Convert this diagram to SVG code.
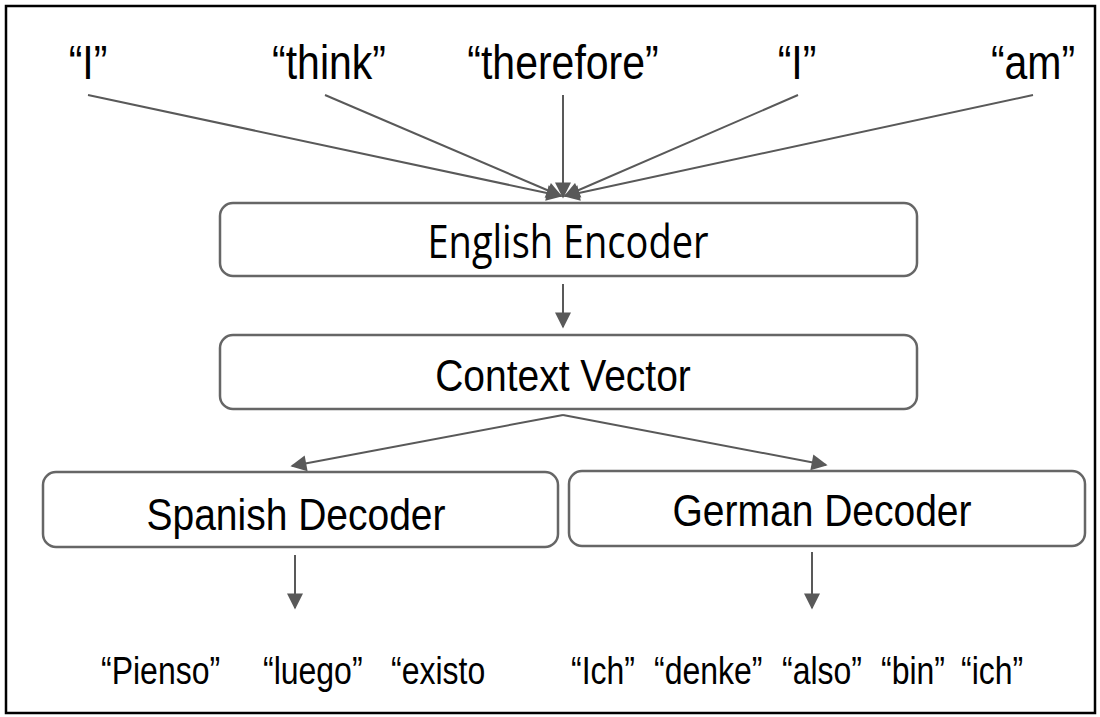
<svg xmlns="http://www.w3.org/2000/svg" width="1100" height="717" viewBox="0 0 1100 717">
<style>
.box{fill:#fff;stroke:#666;stroke-width:2.5}
.lbl{font-family:"Liberation Sans",Arial,sans-serif;fill:#000;text-anchor:middle}
.top{font-size:41px}
.node{font-size:39px}
.word{font-size:32px;text-anchor:start}
.enc{font-family:"Open Sans","Noto Sans",sans-serif;font-size:38px;fill:#000;text-anchor:middle}
.edge{stroke:#595959;stroke-width:2;fill:none;marker-end:url(#ah)}
</style>
<defs>
<marker id="ah" viewBox="0 0 10 10" refX="9" refY="5" markerUnits="userSpaceOnUse" markerWidth="18" markerHeight="16" orient="auto">
<path d="M0,0 L10,5 L0,10 z" fill="#595959"/>
</marker>
</defs>
<rect x="0" y="0" width="1100" height="717" fill="#fff"/>
<rect x="6" y="6" width="1089" height="707" fill="none" stroke="#000" stroke-width="2.5"/>
<g id="inputs">
<text class="lbl top" transform="translate(88,79) scale(1,1.15)">“I”</text>
<text class="lbl top" transform="translate(329,79) scale(1,1.15)">“think”</text>
<text class="lbl top" transform="translate(563,79) scale(1,1.15)">“therefore”</text>
<text class="lbl top" transform="translate(797,79) scale(1,1.15)">“I”</text>
<text class="lbl top" transform="translate(1033,79) scale(1,1.15)">“am”</text>
</g>
<g id="english-encoder">
<rect class="box" x="220" y="203" width="697" height="73" rx="13"/>
<text class="enc" transform="translate(568,258) scale(1,1.18)">English Encoder</text>
</g>
<g id="context-vector">
<rect class="box" x="220" y="335" width="697" height="74" rx="13"/>
<text class="lbl node" transform="translate(563,391) scale(1,1.16)">Context Vector</text>
</g>
<g id="spanish-decoder">
<rect class="box" x="43" y="472" width="515" height="75" rx="13"/>
<text class="lbl node" transform="translate(296,530) scale(1,1.16)">Spanish Decoder</text>
</g>
<g id="german-decoder">
<rect class="box" x="569" y="471" width="516" height="75" rx="13"/>
<text class="lbl node" transform="translate(822,526) scale(1,1.16)">German Decoder</text>
</g>
<g id="spanish-output">
<text class="lbl word" transform="translate(101,684) scale(1,1.2)">“Pienso”</text>
<text class="lbl word" transform="translate(263,684) scale(1,1.2)">“luego”</text>
<text class="lbl word" transform="translate(391,684) scale(1,1.2)">“existo</text>
</g>
<g id="german-output">
<text class="lbl word" transform="translate(571,684) scale(1,1.2)">“Ich”</text>
<text class="lbl word" transform="translate(654,684) scale(1,1.2)">“denke”</text>
<text class="lbl word" transform="translate(782,684) scale(1,1.2)">“also”</text>
<text class="lbl word" transform="translate(881,684) scale(1,1.2)">“bin”</text>
<text class="lbl word" transform="translate(961,684) scale(1,1.2)">“ich”</text>
</g>
<g id="connectors">
<line class="edge" x1="88" y1="95" x2="561" y2="196"/>
<line class="edge" x1="325" y1="95" x2="561" y2="196"/>
<line class="edge" x1="563" y1="95" x2="563" y2="197"/>
<line class="edge" x1="798" y1="95" x2="565" y2="196"/>
<line class="edge" x1="1033" y1="95" x2="565" y2="196"/>
<line class="edge" x1="563" y1="284" x2="563" y2="327"/>
<line class="edge" x1="563" y1="415" x2="292" y2="466"/>
<line class="edge" x1="563" y1="415" x2="826" y2="465"/>
<line class="edge" x1="295" y1="555" x2="295" y2="608"/>
<line class="edge" x1="812" y1="552" x2="812" y2="608"/>
</g>
</svg>
